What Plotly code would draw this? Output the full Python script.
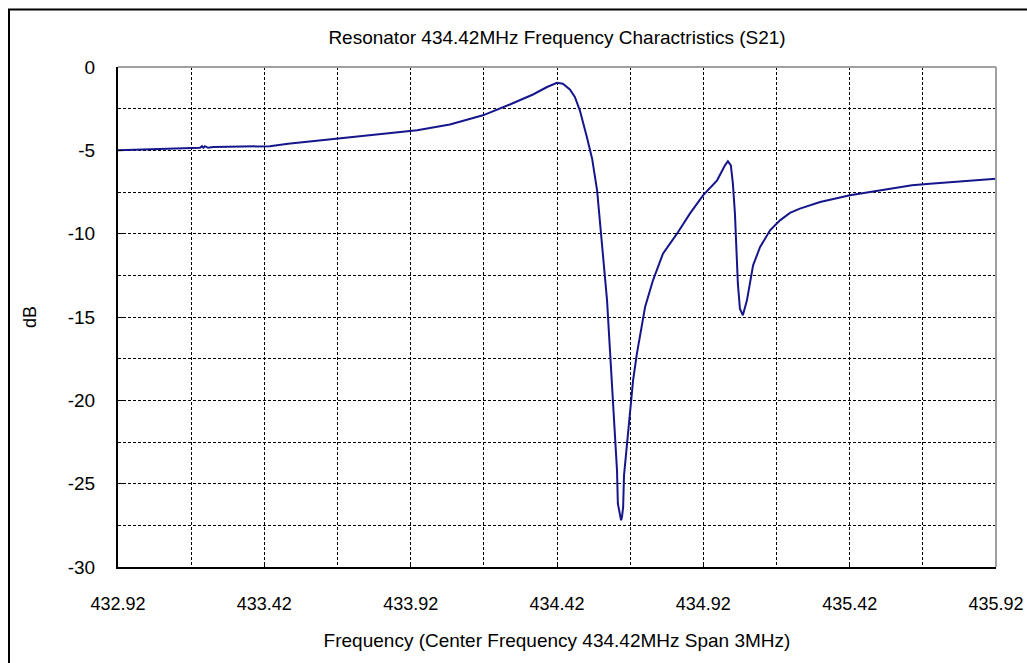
import plotly.graph_objects as go

freq_mhz = [432.920, 433.046, 433.200, 433.207, 433.212, 433.217, 433.228, 433.245, 433.439,
            433.501, 433.586, 433.672, 433.781, 433.884, 433.942, 434.054, 434.167,
            434.259, 434.338, 434.386, 434.420, 434.440, 434.464, 434.481, 434.498,
            434.522, 434.540, 434.557, 434.567, 434.577, 434.591, 434.601, 434.611,
            434.618, 434.625, 434.628, 434.635, 434.639, 434.642, 434.646, 434.649,
            434.659, 434.669, 434.680, 434.693, 434.704, 434.721, 434.748, 434.782,
            434.830, 434.874, 434.919, 434.967, 434.994, 435.004, 435.014, 435.021,
            435.028, 435.034, 435.038, 435.045, 435.055, 435.069, 435.079, 435.090,
            435.114, 435.148, 435.182, 435.216, 435.250, 435.319, 435.421, 435.524,
            435.633, 435.694, 435.763, 435.855, 435.920]
s21_db = [-5.0, -4.95, -4.85, -4.75, -4.85, -4.75, -4.85, -4.8, -4.75,
          -4.6, -4.45, -4.3, -4.1, -3.9, -3.8, -3.45, -2.9,
          -2.25, -1.65, -1.2, -0.95, -1.0, -1.35, -1.8, -2.6,
          -4.2, -5.5, -7.4, -9.3, -11.4, -14.0, -17.0, -20.0,
          -22.4, -24.2, -26.2, -27.0, -27.2, -27.0, -26.4, -24.5,
          -22.6, -20.8, -18.8, -17.2, -16.0, -14.4, -12.8, -11.2,
          -10.0, -8.8, -7.7, -6.8, -5.9, -5.65, -5.9, -7.0,
          -8.8, -11.0, -13.0, -14.5, -14.9, -14.0, -13.0, -11.9,
          -10.8, -9.8, -9.2, -8.75, -8.5, -8.1, -7.7, -7.4,
          -7.1, -7.0, -6.9, -6.75, -6.7]

x_ticks = [432.92, 433.42, 433.92, 434.42, 434.92, 435.42, 435.92]
x_tick_labels = ["432.92", "433.42", "433.92", "434.42", "434.92", "435.42", "435.92"]
y_ticks = [0, -5, -10, -15, -20, -25, -30]
y_tick_labels = ["0", "-5", "-10", "-15", "-20", "-25", "-30"]

title_text = "Resonator 434.42MHz Frequency Charactristics (S21)"
x_title = "Frequency (Center Frequency 434.42MHz Span 3MHz)"
y_title = "dB"

FONT = "Liberation Sans, Arial, sans-serif"

FIG_W, FIG_H = 1027, 663
ML, MT, PW, PH = 118, 67, 878, 500

fig = go.Figure()
fig.add_trace(go.Scatter(x=freq_mhz, y=s21_db, mode="lines",
                         line=dict(color="#16168c", width=2), showlegend=False,
                         hoverinfo="x+y"))

fig.update_layout(
    width=FIG_W, height=FIG_H,
    margin=dict(l=ML, r=FIG_W - ML - PW, t=MT, b=FIG_H - MT - PH, autoexpand=False),
    paper_bgcolor="white", plot_bgcolor="white",
    font=dict(family=FONT, color="black", size=19),
    title=dict(text=title_text, x=(ML + PW / 2) / FIG_W, xanchor="center",
               y=1 - 37 / FIG_H, yanchor="middle", automargin=False,
               font=dict(size=19, color="black")),
    showlegend=False,
)

grid_dash = "3px,2px"
fig.update_xaxes(
    range=[432.92, 435.92], tickvals=x_ticks, ticktext=x_tick_labels,
    showgrid=True, gridcolor="black", griddash=grid_dash, gridwidth=1,
    minor=dict(dtick=0.25, tick0=432.92, showgrid=True, gridcolor="black",
               griddash=grid_dash, gridwidth=1, ticks=""),
    showline=True, linecolor="black", linewidth=2, mirror=False,
    ticks="inside", ticklen=5, tickcolor="black", tickwidth=1,
    zeroline=False, ticklabelstandoff=19, automargin=False,
    tickfont=dict(size=18),
    title=dict(text=x_title, font=dict(size=19), standoff=21),
)
fig.update_yaxes(
    range=[-30, 0], tickvals=y_ticks, ticktext=y_tick_labels,
    showgrid=True, gridcolor="black", griddash=grid_dash, gridwidth=1,
    minor=dict(dtick=2.5, tick0=0, showgrid=True, gridcolor="black",
               griddash=grid_dash, gridwidth=1, ticks=""),
    showline=True, linecolor="black", linewidth=2, mirror=False,
    ticks="inside", ticklen=5, tickcolor="black", tickwidth=1,
    zeroline=False, ticklabelstandoff=17, automargin=False,
    tickfont=dict(size=19),
    title=dict(text=y_title, font=dict(size=18), standoff=26),
)

# gray top/right border of the plot area
fig.add_shape(type="line", xref="paper", yref="paper", x0=0, x1=1, y0=1, y1=1,
              line=dict(color="#a0a0a0", width=2), layer="above")
fig.add_shape(type="line", xref="paper", yref="paper", x0=1, x1=1, y0=0, y1=1,
              line=dict(color="#a0a0a0", width=2), layer="above")
# outer frame of the image (runs off the right and bottom edges)
fig.add_shape(type="rect", xref="paper", yref="paper",
              x0=(9 - ML) / PW, x1=(FIG_W + 10 - ML) / PW,
              y0=-(FIG_H + 10 - MT - PH) / PH, y1=(MT + PH - 9.5) / PH,
              line=dict(color="black", width=2), fillcolor="rgba(0,0,0,0)", layer="above")

fig.write_html("out.html", config={"displayModeBar": False},
               post_script="document.body.style.margin='0';document.body.style.overflow='hidden';")
